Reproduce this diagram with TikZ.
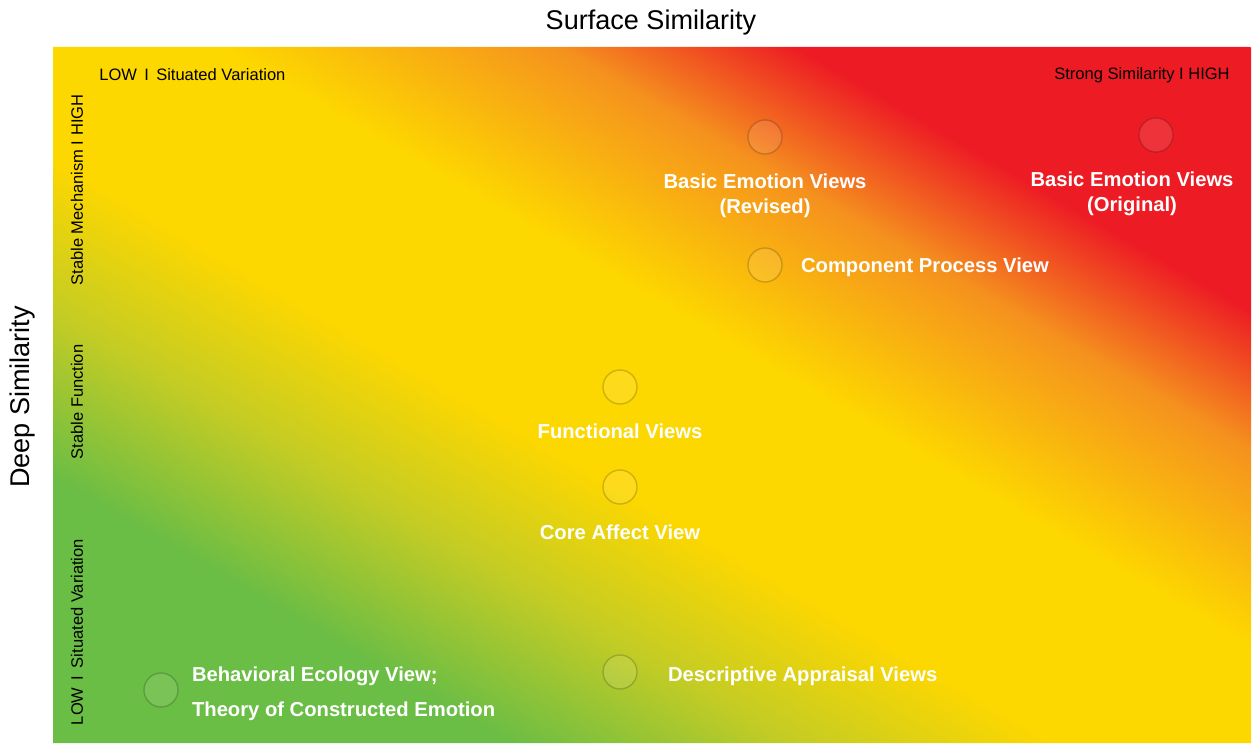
\documentclass[tikz,border=0pt]{standalone}
\usepackage{fontspec}
\setmainfont{Liberation Sans}
\usetikzlibrary{positioning}
\definecolor{simgreen}{RGB}{106,189,69}
\definecolor{simlime}{RGB}{196,204,36}
\definecolor{simyellow}{RGB}{253,215,0}
\definecolor{simorange}{RGB}{245,146,30}
\definecolor{simred}{RGB}{237,28,36}
\pgfdeclarehorizontalshading{similarity}{100bp}{color(0bp)=(simgreen); color(34.5bp)=(simgreen); color(40.5bp)=(simlime); color(46bp)=(simyellow); color(53.5bp)=(simyellow); color(60.5bp)=(simorange); color(65.5bp)=(simred); color(100bp)=(simred)}
\begin{document}
\begin{tikzpicture}[
    view/.style={circle, minimum size=0.68cm, inner sep=0pt, draw=black, draw opacity=0.18, line width=0.8pt, fill=white, fill opacity=0.1},
    viewlabel/.style={text=white, font=\bfseries\fontsize{11.5}{14.2}\selectfont, align=center, inner sep=0pt},
    axislabel/.style={font=\fontsize{15.4}{18}\selectfont},
    scalelabel/.style={font=\fontsize{9.4}{11}\selectfont, inner sep=0pt}]
    \useasboundingbox (0,0) rectangle (25.14,14.86);
    \begin{scope}
        \clip (1.06,0) rectangle (25.02,13.92);
        \begin{scope}[transform canvas={cm={47.88,0,-23.94,13.92,(1.06,0)}}]
            \shade[shading=similarity] (0,0) rectangle (1,1);
        \end{scope}
    \end{scope}

    \node[axislabel] (surface) at (13.02,14.40) {Surface Similarity};
    \node[axislabel, rotate=90] (deep) at (0.46,6.92) {Deep Similarity};
    \node[scalelabel, anchor=west] (xlow) at (1.98,13.36) {LOW\, I\, Situated Variation};
    \node[scalelabel, anchor=east] (xhigh) at (24.6,13.36) {Strong Similarity I HIGH};
    \node[scalelabel, rotate=90] (yhigh) at (1.54,11.06) {Stable Mechanism I HIGH};
    \node[scalelabel, rotate=90] (ymid) at (1.54,6.82) {Stable Function};
    \node[scalelabel, rotate=90] (ylow) at (1.54,2.22) {LOW\, I\, Situated Variation};

    \node[view] (revised) at (15.30,12.12) {};
    \node[viewlabel, below=0.38cm of revised] (revisedtext) {Basic Emotion Views\\(Revised)};
    \node[view] (original) at (23.12,12.16) {};
    \node[viewlabel, below=0.38cm of original, xshift=-0.48cm] (originaltext) {Basic Emotion Views\\(Original)};
    \node[view] (component) at (15.30,9.56) {};
    \node[viewlabel, right=0.36cm of component, yshift=-0.04cm] (componenttext) {Component Process View};
    \node[view] (functional) at (12.40,7.12) {};
    \node[viewlabel, below=0.38cm of functional] (functionaltext) {Functional Views};
    \node[view] (core) at (12.40,5.12) {};
    \node[viewlabel, below=0.4cm of core] (coretext) {Core Affect View};
    \node[view] (descriptive) at (12.40,1.42) {};
    \node[viewlabel, right=0.6cm of descriptive, yshift=-0.08cm] (descriptivetext) {Descriptive Appraisal Views};
    \node[view] (behavioral) at (3.22,1.06) {};
    \node[viewlabel, align=left, font=\bfseries\fontsize{11.5}{19.9}\selectfont, right=0.26cm of behavioral, yshift=-0.08cm] (behavioraltext) {Behavioral Ecology View;\\Theory of Constructed Emotion};
\end{tikzpicture}
\end{document}
